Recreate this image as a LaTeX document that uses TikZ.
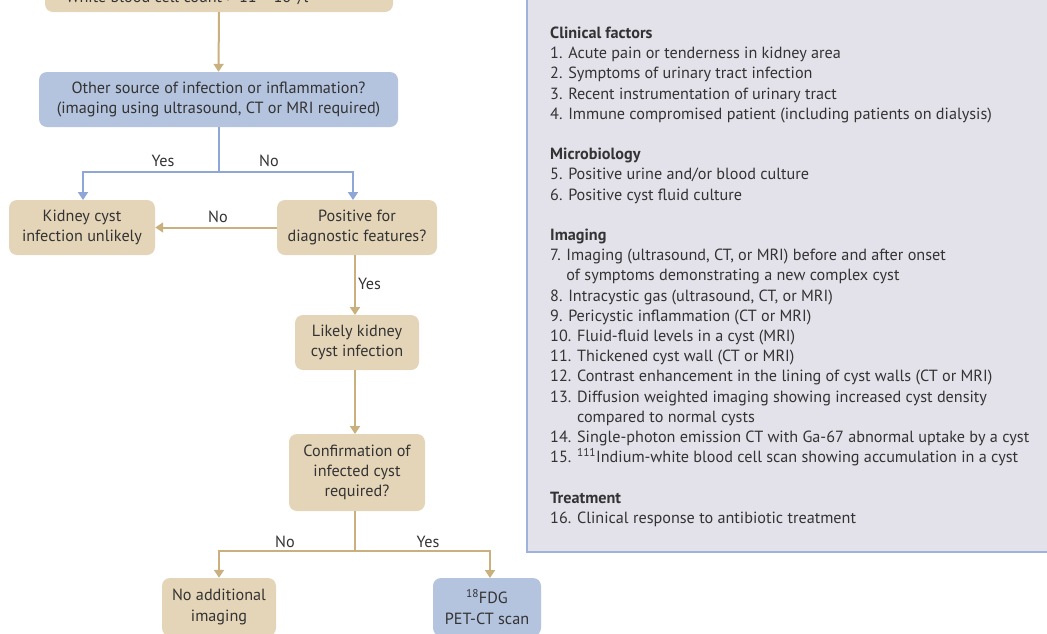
\documentclass[tikz,border=0pt]{standalone}
\usepackage{fontspec}
\setmainfont{PT Sans}
\usetikzlibrary{arrows.meta}
\definecolor{tanfill}{HTML}{E5D5B8}
\definecolor{tanline}{HTML}{C9B07E}
\definecolor{bluefill}{HTML}{B4C3DE}
\definecolor{blueline}{HTML}{8EA7D6}
\definecolor{panelfill}{HTML}{E3E2EB}
\definecolor{panelline}{HTML}{9FB3DA}
\definecolor{ink}{HTML}{333333}
\tikzset{
  basefont/.style={font=\fontsize{16.2}{20.2}\selectfont, text=ink},
  box/.style={basefont, rounded corners=8pt, align=center, inner sep=0pt},
  tanbox/.style={box, fill=tanfill},
  bluebox/.style={box, fill=bluefill},
  tanarrow/.style={draw=tanline, line width=2pt, -{Triangle[width=10pt,length=8pt]}},
  bluearrow/.style={draw=blueline, line width=2pt, -{Triangle[width=10pt,length=8pt]}},
  tanlink/.style={draw=tanline, line width=2pt},
  bluelink/.style={draw=blueline, line width=2pt},
  lbl/.style={basefont, inner sep=0pt},
  listline/.style={basefont, anchor=base west, inner sep=0pt},
}
\begin{document}
\begin{tikzpicture}[x=1pt, y=-1pt]
\useasboundingbox (0,0) rectangle (1047,633);
\clip (0,0) rectangle (1047,633);

% criteria panel
\draw[fill=panelfill, draw=panelline, line width=1.2pt] (527,-20) rectangle (1070,552);
\foreach \txt [count=\i from 0] in {
  {\bfseries Clinical factors},
  {1. Acute pain or tenderness in kidney area},
  {2. Symptoms of urinary tract infection},
  {3. Recent instrumentation of urinary tract},
  {4. Immune compromised patient (including patients on dialysis)},
  {},
  {\bfseries Microbiology},
  {5. Positive urine and/or blood culture},
  {6. Positive cyst fluid culture},
  {},
  {\bfseries Imaging},
  {7. Imaging (ultrasound, CT, or MRI) before and after onset},
  {\hphantom{7. }of symptoms demonstrating a new complex cyst},
  {8. Intracystic gas (ultrasound, CT, or MRI)},
  {9. Pericystic inflammation (CT or MRI)},
  {10. Fluid-fluid levels in a cyst (MRI)},
  {11. Thickened cyst wall (CT or MRI)},
  {12. Contrast enhancement in the lining of cyst walls (CT or MRI)},
  {13. Diffusion weighted imaging showing increased cyst density},
  {\hphantom{13. }compared to normal cysts},
  {14. Single-photon emission CT with Ga-67 abnormal uptake by a cyst},
  {15. \textsuperscript{111}Indium-white blood cell scan showing accumulation in a cyst},
  {},
  {\bfseries Treatment},
  {16. Clinical response to antibiotic treatment}}
  \node[listline] (item\i) at (550, 38.5+20.2*\i) {\txt};

% flowchart boxes
\node[tanbox, minimum width=348pt, minimum height=60pt] (wbc) at (219,-18) {};
\node[lbl, anchor=base west] (wbctext) at (66,2.5) {White blood cell count > 11 × 10\textsuperscript{9}/l};
\node[bluebox, minimum width=359pt, minimum height=55pt] (other) at (218.5,99.5)
  {Other source of infection or inflammation?\\(imaging using ultrasound, CT or MRI required)};
\node[tanbox, minimum width=146pt, minimum height=55pt] (unlikely) at (82,227.5)
  {Kidney cyst\\infection unlikely};
\node[tanbox, minimum width=160pt, minimum height=55pt] (positive) at (357,227.5)
  {Positive for\\diagnostic features?};
\node[tanbox, minimum width=124pt, minimum height=55pt] (likely) at (357,342.5)
  {Likely kidney\\cyst infection};
\node[tanbox, minimum width=136pt, minimum height=77pt] (confirm) at (357,472.5)
  {Confirmation of\\infected cyst\\required?};
\node[tanbox, minimum width=114pt, minimum height=58pt] (noimg) at (219,607)
  {No additional\\imaging};
\node[bluebox, minimum width=108pt, minimum height=58pt] (fdg) at (487,607)
  {\textsuperscript{18}FDG\\PET-CT scan};

% connectors
\coordinate (split1) at (218.5,172);
\coordinate (split2) at (355,551);
\draw[tanarrow] (wbc.south) -- (other.north);
\draw[bluelink] (other.south) -- (split1);
\draw[bluearrow] (split1) -| (83,200);
\draw[bluearrow] (split1) -| (353,200);
\draw[tanarrow] (positive.west) -- (unlikely.east);
\draw[tanarrow] (355,255) -- (355,315);
\draw[tanarrow] (355,370) -- (355,434);
\draw[tanlink] (355,511) -- (split2);
\draw[tanarrow] (split2) -| (noimg.north);
\draw[tanarrow] (split2) -| (490,578);

% branch labels
\node[lbl] (yes1) at (163,161) {Yes};
\node[lbl] (no1) at (269,161) {No};
\node[lbl] (no2) at (218,217) {No};
\node[lbl, anchor=west] (yes2) at (358,284) {Yes};
\node[lbl] (no3) at (285,542) {No};
\node[lbl] (yes3) at (428,542) {Yes};
\end{tikzpicture}
\end{document}
